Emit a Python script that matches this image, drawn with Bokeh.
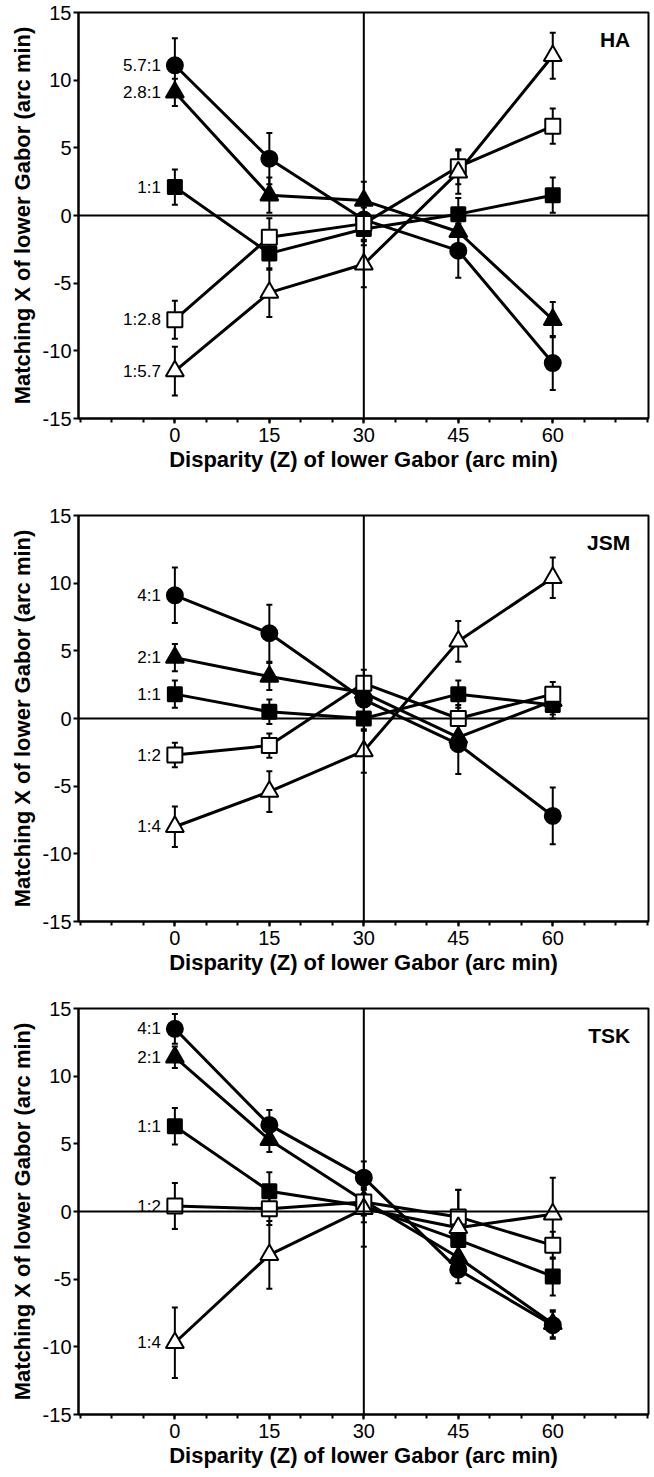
from bokeh.plotting import figure
from bokeh.layouts import column
from bokeh.models import FixedTicker, Span
from bokeh.embed import file_html
from bokeh.resources import INLINE

# ---- data ----
disparity = [0, 15, 30, 45, 60]
x_tick_labels = ["0", "15", "30", "45", "60"]
y_ticks = [-15, -10, -5, 0, 5, 10, 15]

subjects = ["HA", "JSM", "TSK"]

ha_ratios = ["5.7:1", "2.8:1", "1:1", "1:2.8", "1:5.7"]
ha_circle = [11.1, 4.2, -0.3, -2.6, -10.9]
ha_circle_err = [2.0, 1.9, 1.2, 2.0, 2.0]
ha_ftri = [9.1, 1.5, 1.1, -1.2, -7.7]
ha_ftri_err = [1.0, 1.3, 1.4, 1.0, 1.3]
ha_fsq = [2.1, -2.8, -1.0, 0.1, 1.5]
ha_fsq_err = [1.3, 1.2, 1.2, 1.2, 1.3]
ha_osq = [-7.7, -1.6, -0.6, 3.6, 6.6]
ha_osq_err = [1.4, 1.4, 1.2, 1.3, 1.3]
ha_otri = [-11.5, -5.7, -3.6, 3.2, 11.8]
ha_otri_err = [1.8, 1.8, 1.7, 1.6, 1.7]

jsm_ratios = ["4:1", "2:1", "1:1", "1:2", "1:4"]
jsm_circle = [9.1, 6.3, 1.4, -1.9, -7.2]
jsm_circle_err = [2.05, 2.1, 1.2, 2.2, 2.1]
jsm_ftri = [4.5, 3.1, 1.9, -1.4, 1.3]
jsm_ftri_err = [1.0, 1.0, 1.0, 1.0, 1.0]
jsm_fsq = [1.8, 0.5, 0.0, 1.8, 1.0]
jsm_fsq_err = [1.0, 0.9, 0.9, 1.0, 1.0]
jsm_osq = [-2.7, -2.0, 2.6, 0.0, 1.8]
jsm_osq_err = [0.9, 0.9, 1.0, 1.0, 0.9]
jsm_otri = [-8.0, -5.4, -2.4, 5.7, 10.4]
jsm_otri_err = [1.5, 1.5, 1.6, 1.5, 1.5]

tsk_ratios = ["4:1", "2:1", "1:1", "1:2", "1:4"]
tsk_circle = [13.5, 6.4, 2.5, -4.3, -8.4]
tsk_circle_err = [1.1, 1.1, 1.2, 1.0, 1.0]
tsk_ftri = [11.4, 5.3, 0.8, -3.4, -8.3]
tsk_ftri_err = [0.8, 0.9, 1.0, 1.0, 1.0]
tsk_fsq = [6.3, 1.5, 0.4, -2.1, -4.8]
tsk_fsq_err = [1.35, 1.4, 1.2, 1.2, 1.4]
tsk_osq = [0.4, 0.2, 0.7, -0.4, -2.5]
tsk_osq_err = [1.7, 1.2, 1.0, 2.0, 1.0]
tsk_otri = [-9.7, -3.2, 0.2, -1.2, -0.2]
tsk_otri_err = [2.6, 2.5, 2.8, 2.8, 2.7]

FONT = "Liberation Sans"

# marker style per series position: (marker, size, fill)
styles = [("circle", 16, "black"), ("triangle", 18, "black"), ("square", 14, "black"),
          ("square", 15, "white"), ("triangle", 18, "white")]


def make_panel(name, ratios, series, errs, top, bottom):
    p = figure(frame_width=570, frame_height=406, x_range=(-15.3, 75.2), y_range=(-15, 15),
               output_backend="svg", toolbar_location=None,
               min_border_left=78, min_border_right=6, min_border_top=top, min_border_bottom=bottom)
    p.background_fill_color = "white"
    p.border_fill_color = "white"
    p.grid.visible = False
    p.outline_line_color = "black"
    p.outline_line_width = 2

    xa = p.xaxis[0]
    xa.ticker = FixedTicker(ticks=disparity, minor_ticks=list(range(-15, 80, 5)))
    xa.major_label_overrides = {v: s for v, s in zip(disparity, x_tick_labels)}
    xa.axis_label = "Disparity (Z) of lower Gabor (arc min)"
    ya = p.yaxis[0]
    ya.ticker = FixedTicker(ticks=y_ticks)
    ya.major_label_overrides = {v: str(v) for v in y_ticks}
    ya.axis_label = "Matching X of lower Gabor (arc min)"
    for ax in (xa, ya):
        ax.axis_line_width = 2
        ax.axis_line_color = "black"
        ax.major_tick_line_width = 2
        ax.minor_tick_line_width = 2
        ax.major_tick_in = 0
        ax.major_tick_out = 5
        ax.minor_tick_in = 0
        ax.minor_tick_out = 4
        ax.major_label_text_font = FONT
        ax.major_label_text_font_size = "20px"
        ax.major_label_text_color = "black"
        ax.axis_label_text_font = FONT
        ax.axis_label_text_font_size = "22px"
        ax.axis_label_text_font_style = "bold"
        ax.axis_label_text_color = "black"
    xa.major_label_standoff = 4
    xa.axis_label_standoff = 2
    ya.major_label_standoff = 2
    ya.axis_label_standoff = 5

    p.add_layout(Span(location=30, dimension="height", line_color="black", line_width=2))
    p.add_layout(Span(location=0, dimension="width", line_color="black", line_width=2))

    # lines and error bars
    for ys, es in zip(series, errs):
        p.line(disparity, ys, line_color="black", line_width=3)
        lo = [y - e for y, e in zip(ys, es)]
        hi = [y + e for y, e in zip(ys, es)]
        p.segment(x0=disparity, y0=lo, x1=disparity, y1=hi, line_color="black", line_width=2)
        p.scatter(disparity, lo, marker="dash", size=6, line_color="black", line_width=2)
        p.scatter(disparity, hi, marker="dash", size=6, line_color="black", line_width=2)

    # markers
    for ys, (mk, sz, fill) in zip(series, styles):
        p.scatter(disparity, ys, marker=mk, size=sz, fill_color=fill, line_color="black", line_width=2)

    # ratio labels
    p.text(x=[disparity[0]] * len(ratios), y=[s[0] for s in series], text=ratios,
           x_offset=-14, text_align="right", text_baseline="middle",
           text_font_size="17px", text_font={"value": FONT}, text_color="black")

    # subject label
    p.text(x=[72.3], y=[13.0], text=[name], text_align="right", text_baseline="middle",
           text_font_size="21px", text_font_style="bold", text_font={"value": FONT}, text_color="black")
    return p


p1 = make_panel(subjects[0], ha_ratios,
                [ha_circle, ha_ftri, ha_fsq, ha_osq, ha_otri],
                [ha_circle_err, ha_ftri_err, ha_fsq_err, ha_osq_err, ha_otri_err], 12, 74)
p2 = make_panel(subjects[1], jsm_ratios,
                [jsm_circle, jsm_ftri, jsm_fsq, jsm_osq, jsm_otri],
                [jsm_circle_err, jsm_ftri_err, jsm_fsq_err, jsm_osq_err, jsm_otri_err], 23, 64)
p3 = make_panel(subjects[2], tsk_ratios,
                [tsk_circle, tsk_ftri, tsk_fsq, tsk_osq, tsk_otri],
                [tsk_circle_err, tsk_ftri_err, tsk_fsq_err, tsk_osq_err, tsk_otri_err], 23, 63)

layout = column(p1, p2, p3, spacing=0)
open("out.html", "w").write(file_html(layout, INLINE))
